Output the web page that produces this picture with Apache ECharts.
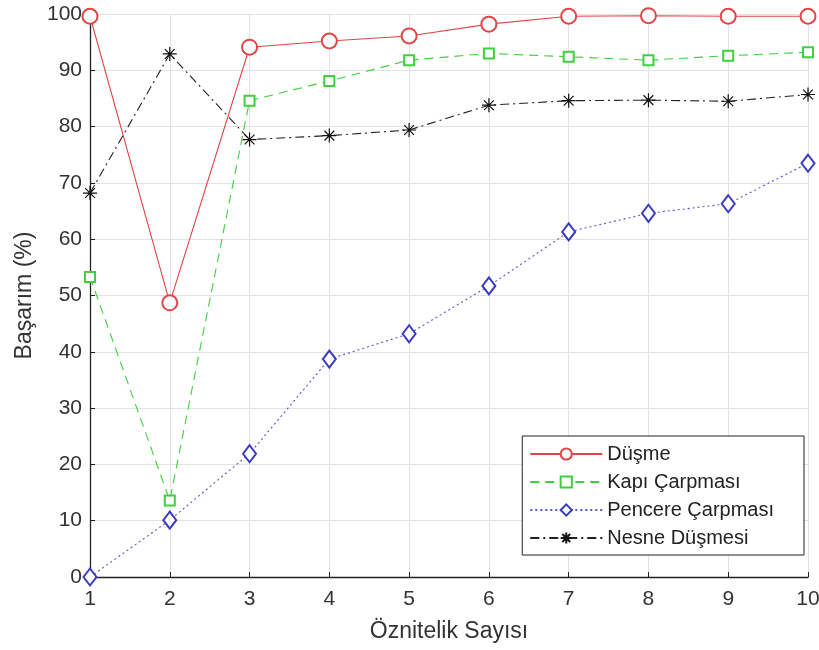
<!DOCTYPE html>
<html><head><meta charset="utf-8">
<script src="https://cdn.jsdelivr.net/npm/echarts@6/dist/echarts.min.js"></script>
<style>html,body{margin:0;padding:0;background:#fff}#c{width:819px;height:650px}</style>
</head><body><div id="c"></div>
<script>
const features = [1,2,3,4,5,6,7,8,9,10];
const dusme = [99.6,48.7,94.1,95.2,96.1,98.2,99.6,99.7,99.6,99.6];
const kapi = [53.3,13.6,84.6,88.1,91.8,93.0,92.4,91.8,92.6,93.2];
const pencere = [0,10.1,21.9,38.7,43.2,51.7,61.3,64.6,66.3,73.5];
const nesne = [68.2,92.9,77.7,78.4,79.4,83.8,84.6,84.7,84.5,85.7];
const yTicks = [0,10,20,30,40,50,60,70,80,90,100];

const pair = arr => features.map((x,i)=>[x,arr[i]]);
const star = 'path://M0,-10L0,10M-10,0L10,0M-7,-7L7,7M-7,7L7,-7';
const font = 'Liberation Sans, Arial, sans-serif';

const chart = echarts.init(document.getElementById('c'));
chart.setOption({
  animation:false,
  backgroundColor:'#fff',
  grid:{left:90,right:11,top:14,bottom:73,containLabel:false,outerBoundsMode:'none'},
  xAxis:{type:'value',min:1,max:10,interval:1,
    name:'Öznitelik Sayısı',nameLocation:'middle',nameGap:43,
    nameTextStyle:{fontFamily:font,fontSize:23,color:'#333'},
    axisLine:{lineStyle:{color:'#222',width:1.3}},
    axisTick:{inside:true,length:5,lineStyle:{color:'#222'}},
    axisLabel:{fontFamily:font,fontSize:21,color:'#333',margin:12},
    splitLine:{show:true,lineStyle:{color:'#e2e2e2'}}},
  yAxis:{type:'value',min:0,max:100,interval:10,
    name:'Başarım (%)',nameLocation:'middle',nameGap:49,
    nameTextStyle:{fontFamily:font,fontSize:23,color:'#333'},
    axisLine:{show:true,lineStyle:{color:'#222',width:1.3}},
    axisTick:{show:true,inside:true,length:5,lineStyle:{color:'#222'}},
    axisLabel:{fontFamily:font,fontSize:21,color:'#333',margin:8,
      formatter:v=>yTicks.includes(v)?String(v):''},
    splitLine:{show:true,lineStyle:{color:'#e2e2e2'}}},
  legend:{orient:'vertical',right:15,bottom:95,
    backgroundColor:'#fff',borderColor:'#222',borderWidth:1,
    padding:[8,30,7,7],itemGap:8,itemWidth:72,itemHeight:14,
    textStyle:{fontFamily:font,fontSize:20,color:'#222'},
    data:['Düşme','Kapı Çarpması','Pencere Çarpması','Nesne Düşmesi']},
  series:[
    {name:'Düşme',type:'line',data:pair(dusme),symbol:'emptyCircle',symbolSize:15,
      color:'#e04646',lineStyle:{color:'#e04646',width:1.1,type:'solid'},
      itemStyle:{color:'#e04646',borderWidth:1.1}},
    {name:'Kapı Çarpması',type:'line',data:pair(kapi),symbol:'emptyRect',symbolSize:10,
      color:'#3fcf3f',lineStyle:{color:'#3fcf3f',width:1.1,type:[9,6]},
      itemStyle:{color:'#3fcf3f',borderWidth:1.1}},
    {name:'Pencere Çarpması',type:'line',data:pair(pencere),symbol:'emptyDiamond',symbolSize:[13,17],
      color:'#3a3ac0',lineStyle:{color:'#5555cc',width:1.1,type:[2,3]},
      itemStyle:{color:'#3a3ac0',borderWidth:1.1}},
    {name:'Nesne Düşmesi',type:'line',data:pair(nesne),symbol:star,symbolSize:14,
      color:'#111',lineStyle:{color:'#222',width:1.1,type:[9,4,2,4]},
      itemStyle:{color:'#111',borderColor:'#111',borderWidth:1.2}}
  ]
});
</script></body></html>
